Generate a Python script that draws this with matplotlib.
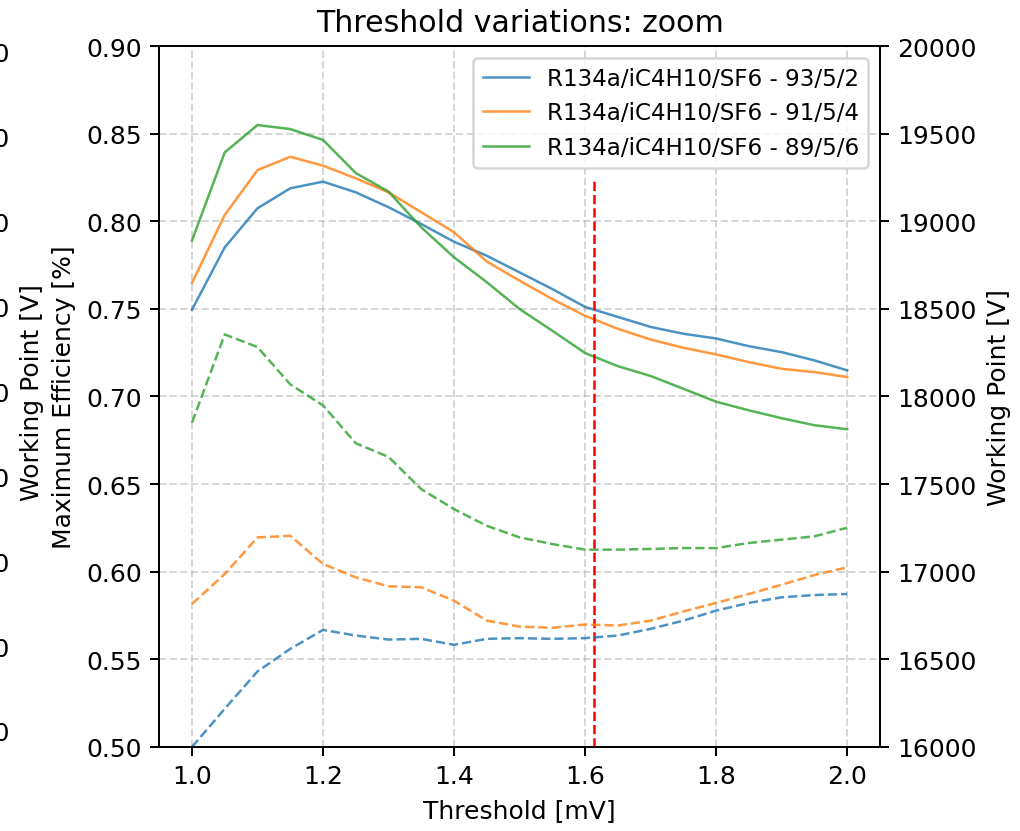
import numpy as np
import matplotlib
matplotlib.use("Agg")
import matplotlib.pyplot as plt

# threshold scan [mV]
threshold = [1.0, 1.05, 1.1, 1.15, 1.2, 1.25, 1.3, 1.35, 1.4, 1.45, 1.5,
             1.55, 1.6, 1.65, 1.7, 1.75, 1.8, 1.85, 1.9, 1.95, 2.0]

# mixture labels
labels = ['R134a/iC4H10/SF6 - 93/5/2',
          'R134a/iC4H10/SF6 - 91/5/4',
          'R134a/iC4H10/SF6 - 89/5/6']

# maximum efficiency
eff_932 = [0.7495, 0.7851, 0.8074, 0.8188, 0.8226, 0.8165, 0.8080, 0.7984, 0.7883, 0.7803, 0.7708,
           0.7613, 0.7511, 0.7454, 0.7397, 0.7358, 0.7331, 0.7287, 0.7253, 0.7206, 0.7149]
eff_914 = [0.7648, 0.8036, 0.8292, 0.8368, 0.8317, 0.8245, 0.8165, 0.8051, 0.7937, 0.7770, 0.7661,
           0.7556, 0.7460, 0.7386, 0.7325, 0.7278, 0.7240, 0.7196, 0.7158, 0.7139, 0.7111]
eff_896 = [0.7890, 0.8393, 0.8549, 0.8526, 0.8464, 0.8275, 0.8169, 0.7965, 0.7794, 0.7652, 0.7499,
           0.7375, 0.7248, 0.7173, 0.7117, 0.7044, 0.6970, 0.6921, 0.6876, 0.6836, 0.6813]

# working point [V]
wp_932 = [16000, 16218, 16431, 16560, 16668, 16636, 16613, 16617, 16583, 16617, 16621,
          16617, 16621, 16636, 16674, 16721, 16778, 16822, 16854, 16867, 16873]
wp_914 = [16816, 16987, 17196, 17205, 17044, 16968, 16917, 16911, 16835, 16721, 16687,
          16680, 16699, 16693, 16721, 16773, 16822, 16873, 16926, 16981, 17025]
wp_896 = [17851, 18354, 18282, 18069, 17949, 17733, 17655, 17471, 17357, 17262, 17196,
          17158, 17126, 17126, 17130, 17135, 17135, 17164, 17183, 17202, 17251]

chosen_threshold = 1.613

colors = ['tab:blue', 'tab:orange', 'tab:green']

fig = plt.figure(figsize=(1020/180, 832/180), dpi=180)

# neighbouring panel (mostly outside the crop, only its right axis shows)
ax0 = fig.add_axes([-0.70, 0.1202, 0.6147, 0.8161])
ax0.yaxis.tick_right()
ax0.yaxis.set_label_position('right')
ax0.set_xticks([])
ax0.set_ylim(16000, 20000)
ax0.set_yticks(np.arange(16000, 20001, 500))
ax0.set_ylabel('Working Point [V]')

# main panel
ax1 = fig.add_axes([0.1561, 0.1010, 0.7066, 0.8425])
ax2 = ax1.twinx()

for eff, lab, c in zip([eff_932, eff_914, eff_896], labels, colors):
    ax1.plot(threshold, eff, color=c, alpha=0.8, lw=1.0, label=lab)
for wp, c in zip([wp_932, wp_914, wp_896], colors):
    ax2.plot(threshold, wp, color=c, alpha=0.8, lw=1.0, ls='--')

ax1.axvline(chosen_threshold, ymax=0.808, color='red', ls='--', lw=1.0)

ax1.set_ylim(0.5, 0.9)
ax2.set_ylim(16000, 20000)
ax1.set_xlabel('Threshold [mV]')
ax1.set_ylabel('Maximum Efficiency [%]')
ax2.set_ylabel('Working Point [V]')
ax1.set_title('Threshold variations: zoom')
ax1.grid(True, linestyle='--', alpha=0.5)
ax1.legend(loc='upper right', fontsize=9.2)

fig.savefig('out.png', dpi=180)
